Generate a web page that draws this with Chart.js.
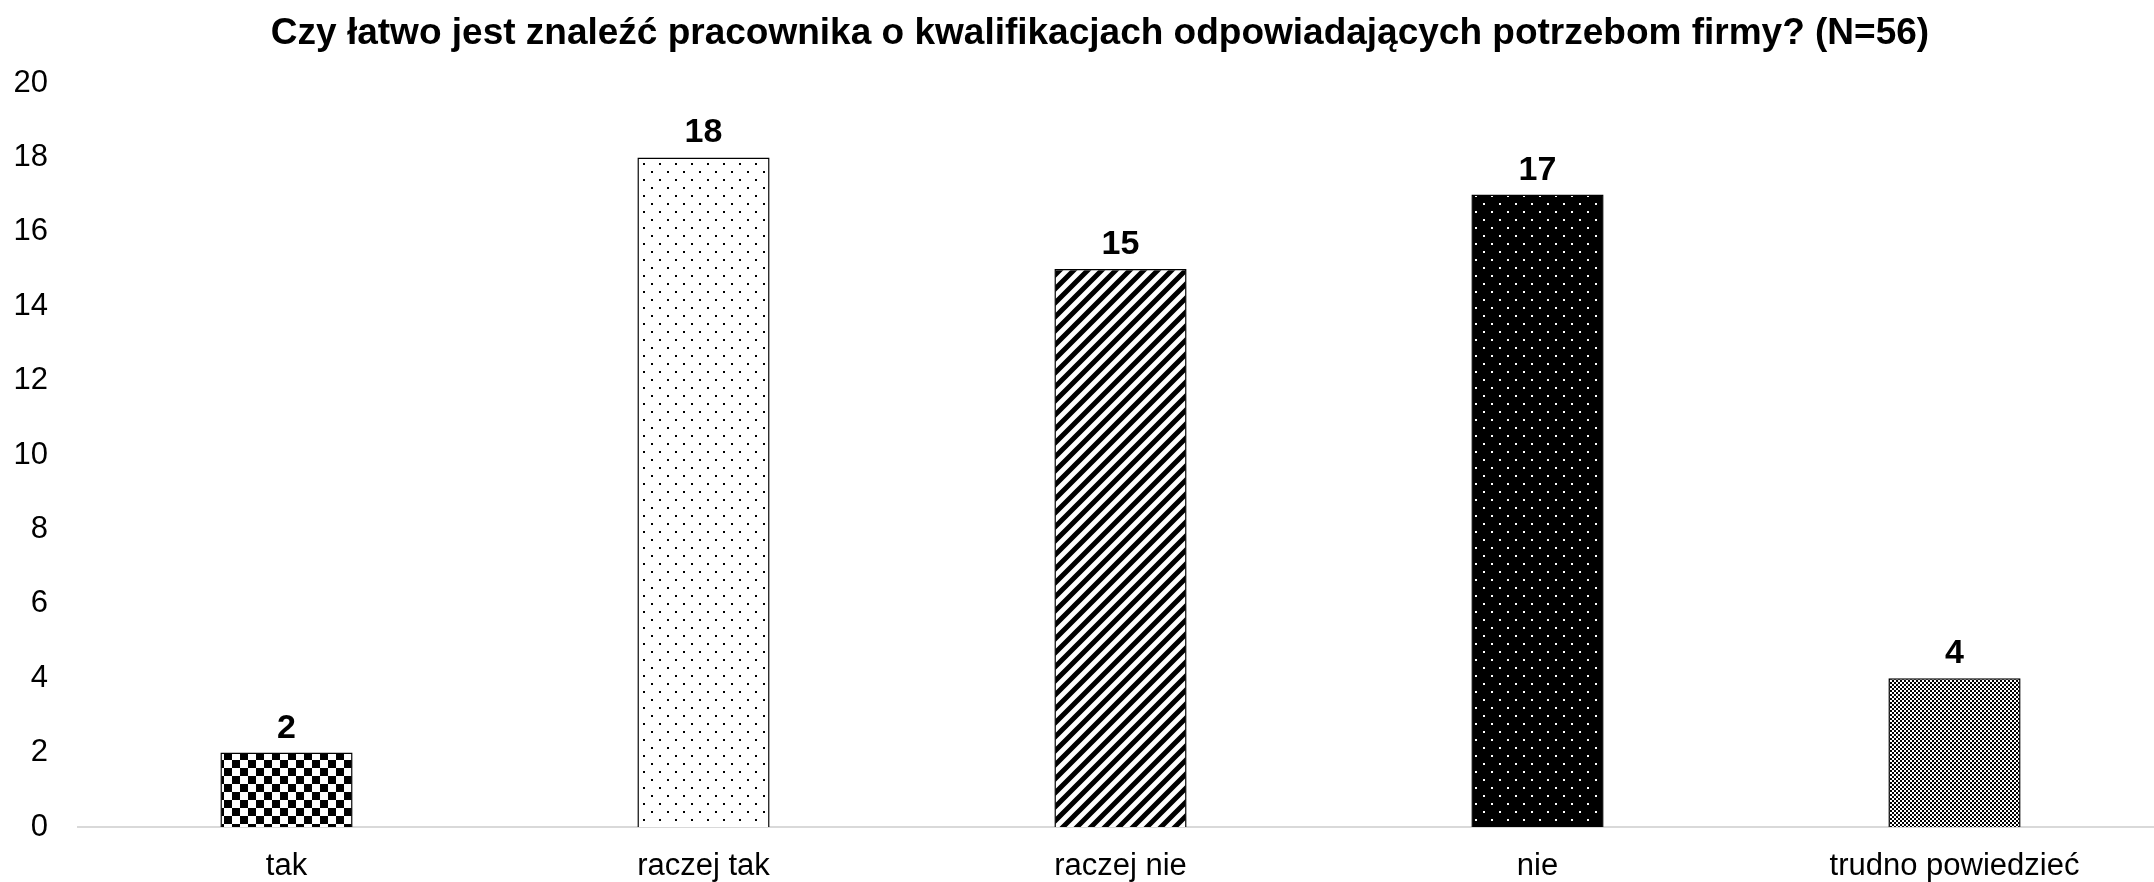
<!DOCTYPE html>
<html>
<head>
<meta charset="utf-8">
<script src="https://cdn.jsdelivr.net/npm/chart.js@4/dist/chart.umd.min.js"></script>
<style>
  html, body { margin: 0; padding: 0; background: #fff; overflow: hidden; }
  #wrap { width: 2164px; height: 882px; }
</style>
</head>
<body>
<div id="wrap"><canvas id="chart"></canvas></div>
<script>
// chart data
const chartTitle = 'Czy łatwo jest znaleźć pracownika o kwalifikacjach odpowiadających potrzebom firmy? (N=56)';
const categories = ['tak', 'raczej tak', 'raczej nie', 'nie', 'trudno powiedzieć'];
const answerCounts = [2, 18, 15, 17, 4];
const patternKinds = ['checker', 'dots', 'stripes', 'darkdots', 'finechecker'];
const yTicks = [0, 2, 4, 6, 8, 10, 12, 14, 16, 18, 20];

const FONT = 'Liberation Sans, Arial, sans-serif';

// build a fill pattern on a small canvas
function makePattern(kind) {
	const c = document.createElement('canvas');
	const g = c.getContext('2d');
	if (kind === 'checker') {
		c.width = 16; c.height = 16;
		g.fillStyle = '#fff'; g.fillRect(0, 0, 16, 16);
		g.fillStyle = '#000';
		g.fillRect(0, 0, 8, 8);
		g.fillRect(8, 8, 8, 8);
	} else if (kind === 'finechecker') {
		c.width = 4; c.height = 4;
		g.fillStyle = '#fff'; g.fillRect(0, 0, 4, 4);
		g.fillStyle = '#000';
		g.fillRect(0, 0, 2, 2);
		g.fillRect(2, 2, 2, 2);
	} else if (kind === 'dots' || kind === 'darkdots') {
		c.width = 16; c.height = 16;
		g.fillStyle = kind === 'dots' ? '#fff' : '#000';
		g.fillRect(0, 0, 16, 16);
		g.fillStyle = kind === 'dots' ? '#000' : '#fff';
		g.fillRect(3, 3, 2, 2);
		g.fillRect(11, 11, 2, 2);
	} else if (kind === 'stripes') {
		c.width = 14; c.height = 14;
		g.fillStyle = '#fff'; g.fillRect(0, 0, 14, 14);
		g.strokeStyle = '#000';
		g.lineWidth = 5;
		g.beginPath();
		for (let k = -1; k <= 1; k++) {
			g.moveTo(-2 + k * 14, 16);
			g.lineTo(16 + k * 14, -2);
		}
		g.stroke();
	}
	const main = document.getElementById('chart').getContext('2d');
	return main.createPattern(c, 'repeat');
}

// numbers above the bars + the title (drawn here so it can sit off-centre like the original)
const valueLabels = {
	id: 'valueLabels',
	afterDatasetsDraw(chart) {
		const ctx = chart.ctx;
		const meta = chart.getDatasetMeta(0);
		ctx.save();
		ctx.font = 'bold 34px ' + FONT;
		ctx.fillStyle = '#000';
		ctx.textAlign = 'center';
		ctx.textBaseline = 'alphabetic';
		meta.data.forEach((bar, i) => {
			ctx.fillText(String(answerCounts[i]), bar.x, bar.y - 15);
		});

		ctx.font = 'bold 37px ' + FONT;
		ctx.textBaseline = 'middle';
		ctx.fillText(chartTitle, 1100, 33.5);
		ctx.restore();
	}
};

new Chart(document.getElementById('chart'), {
	type: 'bar',
	data: {
		labels: categories,
		datasets: [{
			data: answerCounts,
			backgroundColor: patternKinds.map(makePattern),
			borderColor: '#000',
			borderWidth: 1.5,
			barPercentage: 0.317,
			categoryPercentage: 1
		}]
	},
	options: {
		responsive: true,
		maintainAspectRatio: false,
		animation: false,
		layout: { padding: { left: 0, right: 1, top: 83, bottom: 0 } },
		plugins: {
			legend: { display: false },
			tooltip: { enabled: false },
			title: { display: false }
		},
		scales: {
			x: {
				afterFit: axis => { axis.height = 55; },
				grid: { display: false, drawTicks: false },
				border: { display: true, color: '#d9d9d9', width: 2 },
				ticks: { color: '#000', padding: 21, font: { family: FONT, size: 31 } }
			},
			y: {
				min: 0,
				max: 20,
				afterBuildTicks: axis => { axis.ticks = yTicks.map(v => ({ value: v })); },
				afterFit: axis => { axis.width = 78; },
				grid: { display: false, drawTicks: false },
				border: { display: false },
				ticks: { color: '#000', padding: 30, font: { family: FONT, size: 31 } }
			}
		}
	},
	plugins: [valueLabels]
});
</script>
</body>
</html>
